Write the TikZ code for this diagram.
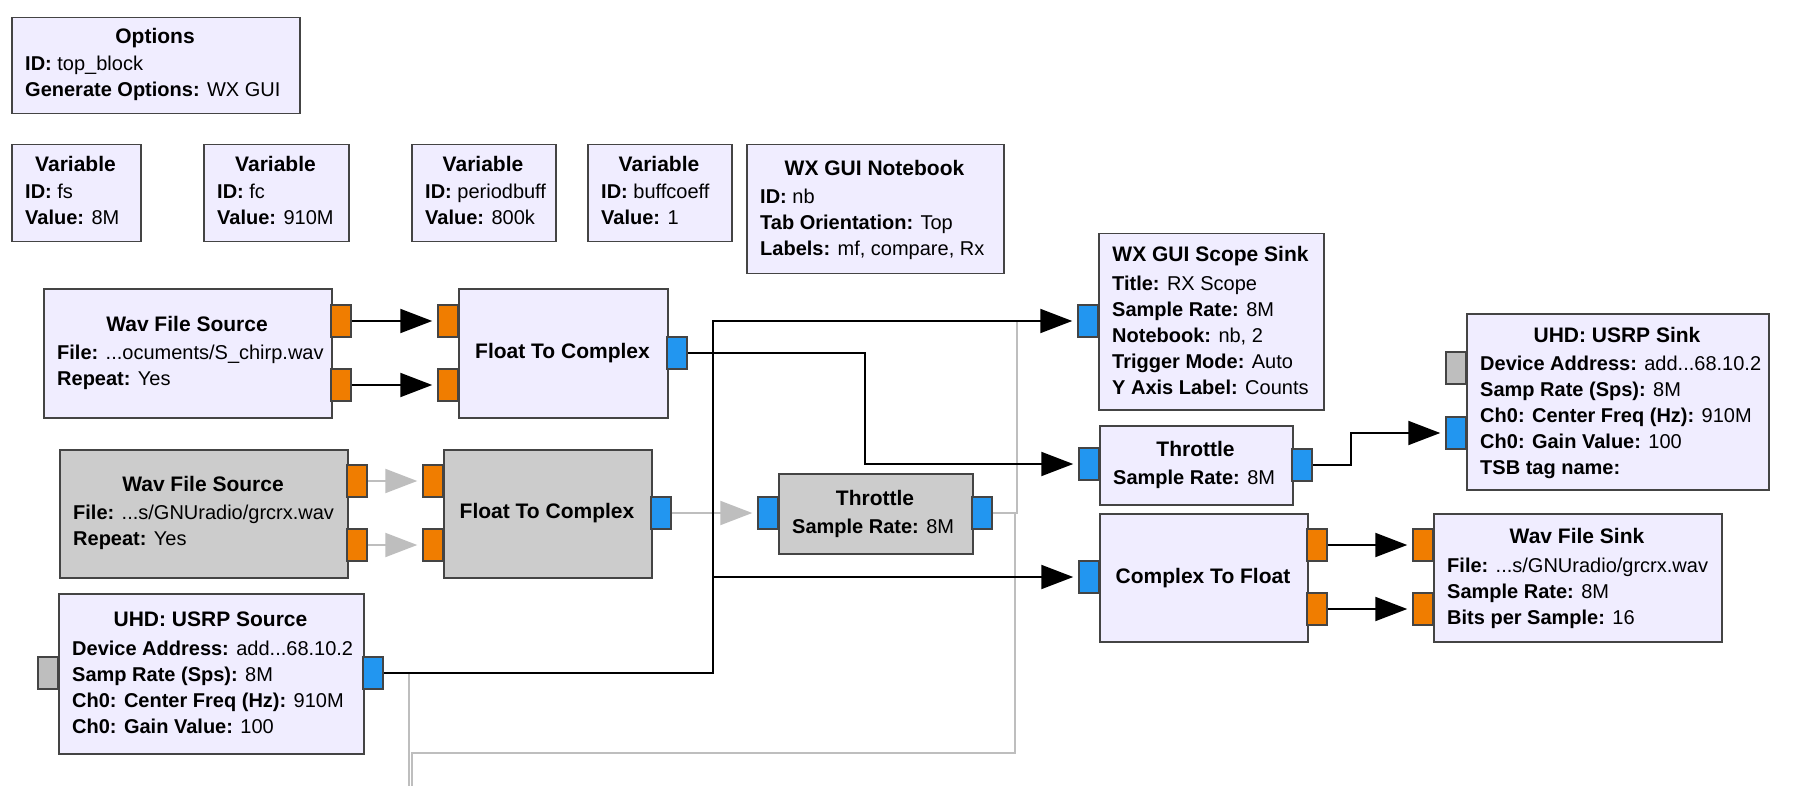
\documentclass[tikz,border=0pt]{standalone}
\usepackage{fontspec}
\setmainfont{Liberation Sans}
\usetikzlibrary{arrows.meta, positioning}
\definecolor{blkfill}{RGB}{240,237,255}
\definecolor{disfill}{RGB}{204,204,204}
\definecolor{bdr}{RGB}{68,68,68}
\definecolor{fltport}{RGB}{240,125,0}
\definecolor{cpxport}{RGB}{34,150,240}
\definecolor{msgport}{RGB}{190,190,190}
\definecolor{lgray}{RGB}{190,190,190}

\begin{document}
\begin{tikzpicture}[x=1pt, y=-1pt,
    blk/.style={draw=bdr, line width=1.5pt, fill=blkfill, anchor=north west, inner sep=0pt},
    dis/.style={blk, fill=disfill},
    ttl/.style={anchor=base, inner sep=0pt, font=\fontsize{21}{26}\selectfont\bfseries},
    prm/.style={anchor=base west, align=left, inner sep=0pt, font=\fontsize{20}{26}\selectfont},
    port/.style={draw=bdr, line width=1.5pt, fill=#1, minimum width=20pt, minimum height=32pt, inner sep=0pt},
    wire/.style={line width=2pt, -{Triangle[length=32pt,width=24pt]}, shorten >=5pt},
    gwire/.style={wire, draw=lgray},
    gline/.style={line width=2pt, draw=lgray}]
    \fill[white] (0,0) rectangle (1806,786);
    \useasboundingbox (0,0) rectangle (1806,786);

    % blocks (param nodes sit on the baseline of their last line)
    \node[blk, minimum width=288pt, minimum height=96pt] (opt) at (11,17) {};
    \node[ttl] (opt-t) at (155,43.5) {Options};
    \node[prm] (opt-p) at (25,97) {\textbf{ID:} top\_block\\\textbf{Generate Options:} WX GUI};

    \node[blk, minimum width=129pt, minimum height=97pt] (varfs) at (11,144) {};
    \node[ttl] (varfs-t) at (75.5,171.5) {Variable};
    \node[prm] (varfs-p) at (25,225) {\textbf{ID:} fs\\\textbf{Value:} 8M};

    \node[blk, minimum width=145pt, minimum height=97pt] (varfc) at (203,144) {};
    \node[ttl] (varfc-t) at (275.5,171.5) {Variable};
    \node[prm] (varfc-p) at (217,225) {\textbf{ID:} fc\\\textbf{Value:} 910M};

    \node[blk, minimum width=144pt, minimum height=97pt] (varpb) at (411,144) {};
    \node[ttl] (varpb-t) at (483,171.5) {Variable};
    \node[prm] (varpb-p) at (425,225) {\textbf{ID:} periodbuff\\\textbf{Value:} 800k};

    \node[blk, minimum width=144pt, minimum height=97pt] (varbc) at (587,144) {};
    \node[ttl] (varbc-t) at (659,171.5) {Variable};
    \node[prm] (varbc-p) at (601,225) {\textbf{ID:} buffcoeff\\\textbf{Value:} 1};

    \node[blk, minimum width=257pt, minimum height=129pt] (nb) at (746,144) {};
    \node[ttl] (nb-t) at (874.5,175.5) {WX GUI Notebook};
    \node[prm] (nb-p) at (760,256) {\textbf{ID:} nb\\\textbf{Tab Orientation:} Top\\\textbf{Labels:} mf, compare, Rx};

    \node[blk, minimum width=288pt, minimum height=129pt] (wsrc) at (43,288) {};
    \node[ttl] (wsrc-t) at (187,331.5) {Wav File Source};
    \node[prm] (wsrc-p) at (57,385) {\textbf{File:} ...ocuments/S\_chirp.wav\\\textbf{Repeat:} Yes};

    \node[blk, minimum width=209pt, minimum height=129pt] (ftc) at (458,288) {};
    \node[ttl] (ftc-t) at (562.5,358.5) {Float To Complex};

    \node[dis, minimum width=288pt, minimum height=128pt] (gwsrc) at (59,449) {};
    \node[ttl] (gwsrc-t) at (203,491.5) {Wav File Source};
    \node[prm] (gwsrc-p) at (73,545) {\textbf{File:} ...s/GNUradio/grcrx.wav\\\textbf{Repeat:} Yes};

    \node[dis, minimum width=208pt, minimum height=128pt] (gftc) at (443,449) {};
    \node[ttl] (gftc-t) at (547,518.5) {Float To Complex};

    \node[dis, minimum width=194pt, minimum height=80pt] (gthr) at (778,473) {};
    \node[ttl] (gthr-t) at (875,505.5) {Throttle};
    \node[prm] (gthr-p) at (792,533) {\textbf{Sample Rate:} 8M};

    \node[blk, minimum width=305pt, minimum height=160pt] (usrc) at (58,593) {};
    \node[ttl] (usrc-t) at (210.5,626.5) {UHD: USRP Source};
    \node[prm] (usrc-p) at (72,733) {\textbf{Device Address:} add...68.10.2\\\textbf{Samp Rate (Sps):} 8M\\\textbf{Ch0: Center Freq (Hz):} 910M\\\textbf{Ch0: Gain Value:} 100};

    \node[blk, minimum width=225pt, minimum height=176pt] (scope) at (1098,233) {};
    \node[ttl] (scope-t) at (1210.5,261.5) {WX GUI Scope Sink};
    \node[prm] (scope-p) at (1112,394) {\textbf{Title:} RX Scope\\\textbf{Sample Rate:} 8M\\\textbf{Notebook:} nb, 2\\\textbf{Trigger Mode:} Auto\\\textbf{Y Axis Label:} Counts};

    \node[blk, minimum width=193pt, minimum height=79pt] (thr) at (1099,425) {};
    \node[ttl] (thr-t) at (1195.5,456.5) {Throttle};
    \node[prm] (thr-p) at (1113,484) {\textbf{Sample Rate:} 8M};

    \node[blk, minimum width=208pt, minimum height=128pt] (ctf) at (1099,513) {};
    \node[ttl] (ctf-t) at (1203,583.5) {Complex To Float};

    \node[blk, minimum width=302pt, minimum height=176pt] (usnk) at (1466,313) {};
    \node[ttl] (usnk-t) at (1617,342.5) {UHD: USRP Sink};
    \node[prm] (usnk-p) at (1480,474) {\textbf{Device Address:} add...68.10.2\\\textbf{Samp Rate (Sps):} 8M\\\textbf{Ch0: Center Freq (Hz):} 910M\\\textbf{Ch0: Gain Value:} 100\\\textbf{TSB tag name:}};

    \node[blk, minimum width=288pt, minimum height=128pt] (wsnk) at (1433,513) {};
    \node[ttl] (wsnk-t) at (1577,543.5) {Wav File Sink};
    \node[prm] (wsnk-p) at (1447,624) {\textbf{File:} ...s/GNUradio/grcrx.wav\\\textbf{Sample Rate:} 8M\\\textbf{Bits per Sample:} 16};

    % ports
    \node[port=fltport] (wsrc-o1) at (341,321) {};
    \node[port=fltport] (wsrc-o2) at (341,385) {};
    \node[port=fltport] (ftc-i1) at (448,321) {};
    \node[port=fltport] (ftc-i2) at (448,385) {};
    \node[port=cpxport] (ftc-o) at (677,353) {};
    \node[port=fltport] (gwsrc-o1) at (357,481) {};
    \node[port=fltport] (gwsrc-o2) at (357,545) {};
    \node[port=fltport] (gftc-i1) at (433,481) {};
    \node[port=fltport] (gftc-i2) at (433,545) {};
    \node[port=cpxport] (gftc-o) at (661,513) {};
    \node[port=cpxport] (gthr-i) at (768,513) {};
    \node[port=cpxport] (gthr-o) at (982,513) {};
    \node[port=msgport] (usrc-c) at (48,673) {};
    \node[port=cpxport] (usrc-o) at (373,673) {};
    \node[port=cpxport] (scope-i) at (1088,321) {};
    \node[port=cpxport] (thr-i) at (1089,464) {};
    \node[port=cpxport] (thr-o) at (1302,465) {};
    \node[port=cpxport] (ctf-i) at (1089,577) {};
    \node[port=fltport] (ctf-o1) at (1317,545) {};
    \node[port=fltport] (ctf-o2) at (1317,609) {};
    \node[port=msgport] (usnk-c) at (1456,368) {};
    \node[port=cpxport] (usnk-i) at (1456,433) {};
    \node[port=fltport] (wsnk-i1) at (1423,545) {};
    \node[port=fltport] (wsnk-i2) at (1423,609) {};

    % bends
    \coordinate (col-a) at (865,0);
    \coordinate (col-b) at (713,0);
    \coordinate (col-c) at (1351,0);
    \coordinate (col-d) at (1017,0);
    \coordinate (col-e) at (1015,753);
    \coordinate (end-a) at (412,786);
    \coordinate (end-b) at (409,786);

    % disabled connections
    \draw[gwire] (gwsrc-o1.east) -- (gftc-i1.west);
    \draw[gwire] (gwsrc-o2.east) -- (gftc-i2.west);
    \draw[gwire] (gftc-o.east) -- (gthr-i.west);
    \draw[gline] (gthr-o.east) -| (col-d |- scope-i);
    \draw[gline] (gthr-o.east) -| (col-e) -| (end-a);
    \draw[gline] (usrc-o.east) -| (end-b);

    % connections
    \draw[wire] (wsrc-o1.east) -- (ftc-i1.west);
    \draw[wire] (wsrc-o2.east) -- (ftc-i2.west);
    \draw[wire] (ftc-o.east) -| (col-a |- thr-i) -- (thr-i.west);
    \draw[wire] (usrc-o.east) -| (col-b |- scope-i) -- (scope-i.west);
    \draw[wire] (col-b |- ctf-i) -- (ctf-i.west);
    \draw[wire] (thr-o.east) -| (col-c |- usnk-i) -- (usnk-i.west);
    \draw[wire] (ctf-o1.east) -- (wsnk-i1.west);
    \draw[wire] (ctf-o2.east) -- (wsnk-i2.west);
\end{tikzpicture}
\end{document}
